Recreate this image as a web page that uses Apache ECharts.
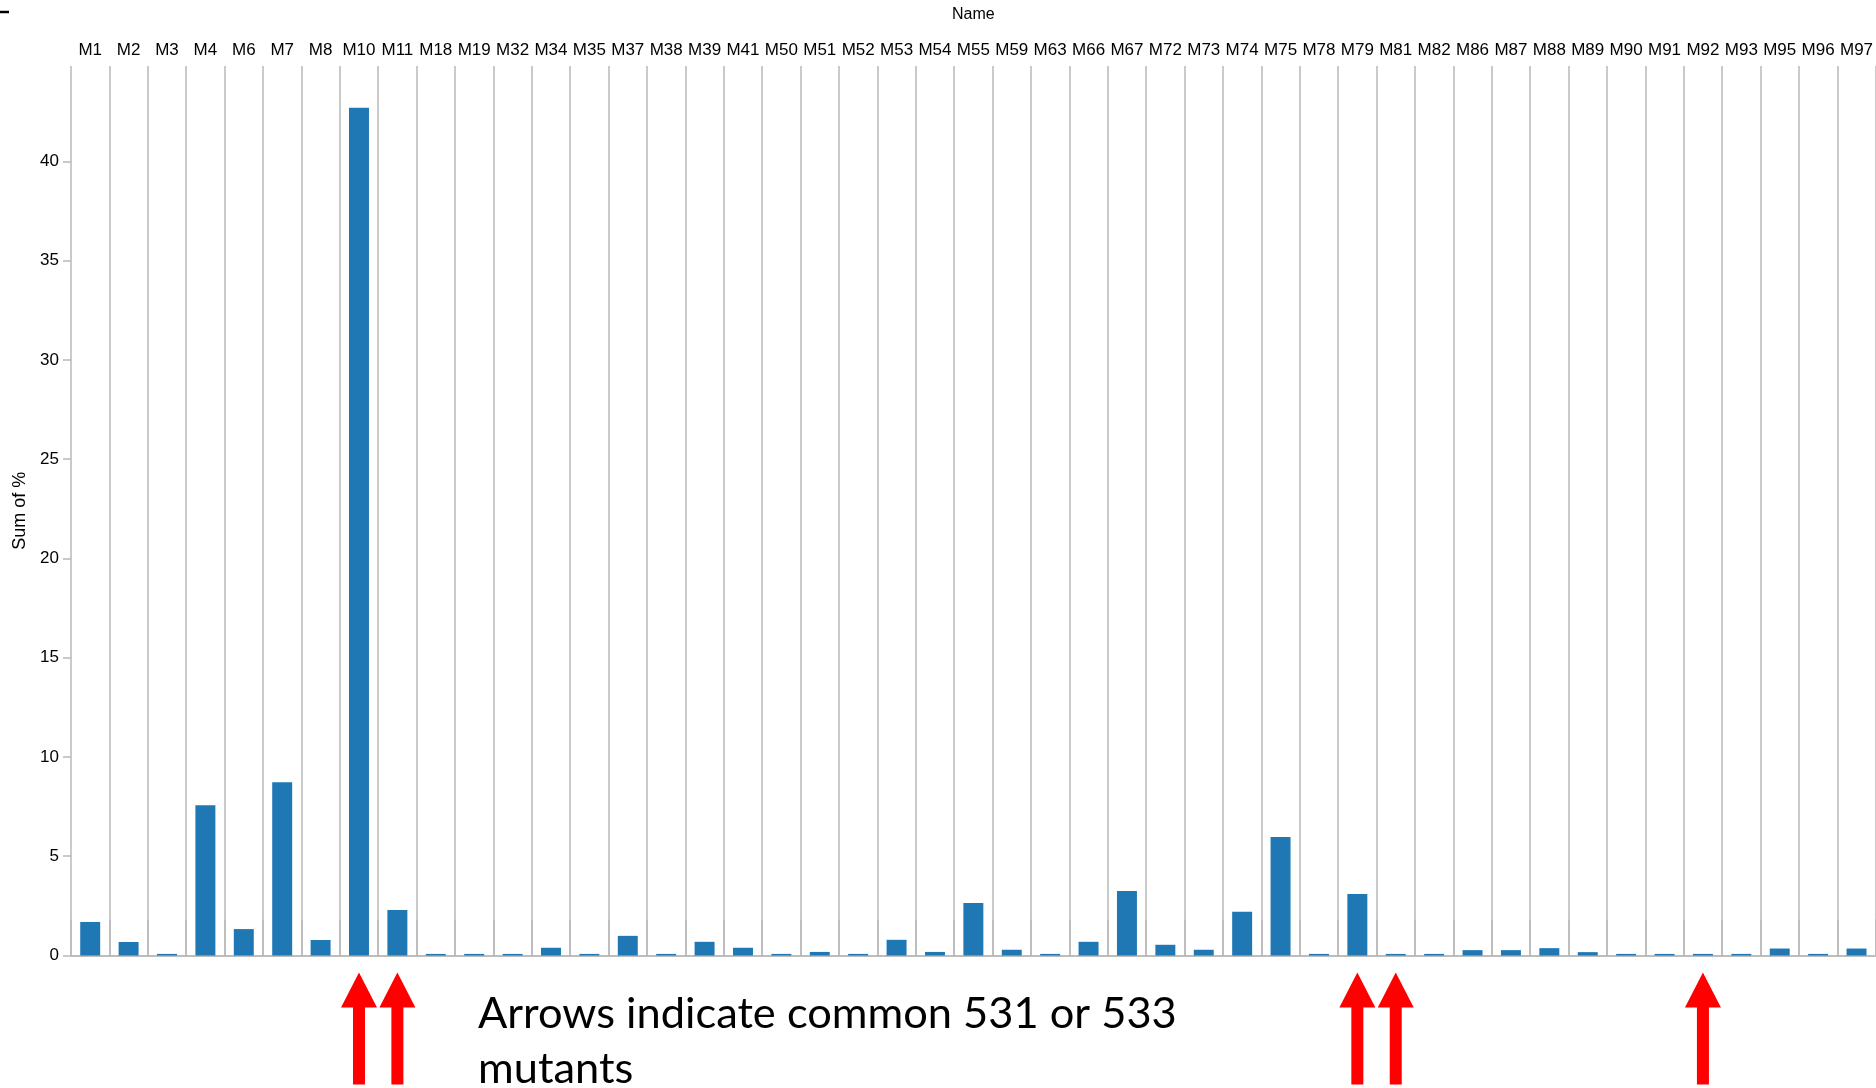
<!DOCTYPE html>
<html>
<head>
<meta charset="utf-8">
<script src="https://cdn.jsdelivr.net/npm/echarts@6/dist/echarts.min.js"></script>
<style>
html,body{margin:0;padding:0;background:#fff;}
#chart{width:1876px;height:1088px;}
</style>
</head>
<body>
<div id="chart"></div>
<script>
const categories = ['M1','M2','M3','M4','M6','M7','M8','M10','M11','M18','M19','M32','M34','M35','M37','M38','M39','M41','M50','M51','M52','M53','M54','M55','M59','M63','M66','M67','M72','M73','M74','M75','M78','M79','M81','M82','M86','M87','M88','M89','M90','M91','M92','M93','M95','M96','M97'];
const sumPercent = [1.69,0.68,0.08,7.57,1.33,8.73,0.78,42.7,2.29,0.08,0.08,0.08,0.39,0.08,0.99,0.08,0.69,0.39,0.08,0.18,0.08,0.79,0.18,2.65,0.29,0.08,0.69,3.25,0.54,0.29,2.2,5.97,0.08,3.1,0.08,0.08,0.27,0.27,0.37,0.17,0.08,0.08,0.08,0.08,0.35,0.08,0.35];
const arrowCategories = ['M10','M11','M79','M81','M92'];
const yTicks = [0,5,10,15,20,25,30,35,40];
const noteLines = ['Arrows indicate common 531 or 533', 'mutants'];

const GRAY = '#b9b9b9';
const chart = echarts.init(document.getElementById('chart'), null, {renderer:'canvas'});
const option = {
  animation: false,
  backgroundColor: '#fff',
  grid: {left: 71, right: -5.4, top: 66, bottom: 132.5, containLabel: false},
  xAxis: [{
    type: 'category',
    data: categories,
    position: 'top',
    name: 'Name',
    nameLocation: 'middle',
    nameGap: 43,
    nameTextStyle: {fontFamily: 'Liberation Sans', fontSize: 16, color: '#000'},
    axisLine: {show: true, lineStyle: {color: GRAY, width: 1.5}},
    axisTick: {show: true, length: 36, interval: 0, lineStyle: {color: GRAY, width: 1.5}},
    axisLabel: {interval: 0, margin: 7, fontFamily: 'Liberation Sans', fontSize: 17, color: '#000'},
    splitLine: {show: true, interval: 0, lineStyle: {color: GRAY, width: 1.5}}
  }, {
    type: 'category',
    data: categories,
    position: 'bottom',
    axisLine: {show: true, lineStyle: {color: GRAY, width: 1.5}},
    axisTick: {show: false},
    axisLabel: {show: false},
    splitLine: {show: false}
  }],
  yAxis: {
    type: 'value',
    min: 0,
    max: 44.8,
    interval: 5,
    name: 'Sum of %',
    nameLocation: 'middle',
    nameGap: 42,
    nameTextStyle: {fontFamily: 'Liberation Sans', fontSize: 18, color: '#000'},
    axisLine: {show: false},
    axisTick: {show: true, length: 8, lineStyle: {color: GRAY, width: 1.5}},
    axisLabel: {
      margin: 12, fontFamily: 'Liberation Sans', fontSize: 17, color: '#000',
      showMaxLabel: false,
      formatter: function (v) { return yTicks.indexOf(v) >= 0 ? String(v) : ''; }
    },
    splitLine: {show: false}
  },
  series: [{
    type: 'bar',
    data: sumPercent,
    barWidth: '52%',
    itemStyle: {color: '#1f77b4'}
  }, {
    type: 'custom',
    clip: false,
    silent: true,
    data: arrowCategories.map(c => [c, 0]),
    renderItem: function (params, api) {
      const p = api.coord([api.value(0), 0]);
      const x = p[0], y0 = p[1];
      const tip = y0 + 17, base = y0 + 52, bottom = y0 + 129;
      const hw = 18, sw = 6;
      return {
        type: 'polygon',
        shape: {points: [[x, tip], [x + hw, base], [x + sw, base], [x + sw, bottom], [x - sw, bottom], [x - sw, base], [x - hw, base]]},
        style: {fill: '#ff0000'}
      };
    }
  }],
  graphic: [
    {type: 'line', shape: {x1: 0, y1: 12, x2: 9, y2: 12}, style: {stroke: '#000', lineWidth: 2.5}},
    {type: 'text', left: 478, top: 992, style: {text: noteLines[0], font: '43.4px Lato', fill: '#000'}},
    {type: 'text', left: 478, top: 1047, style: {text: noteLines[1], font: '43.4px Lato', fill: '#000'}}
  ]
};
chart.setOption(option);
</script>
</body>
</html>
